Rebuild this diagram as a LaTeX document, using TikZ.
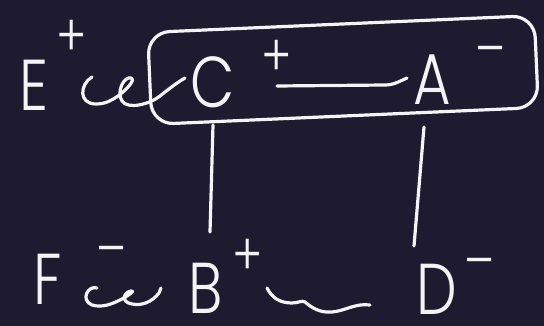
\documentclass[tikz,border=0pt]{standalone}
\usepackage{fontspec}
\newfontfamily\handfont{Poppins Light}[FakeStretch=0.8]
\usepackage{tikz}
\usetikzlibrary{positioning}
\definecolor{boardbg}{HTML}{1E1A2F}
\definecolor{chalk}{HTML}{F4F4F4}

\begin{document}
\begin{tikzpicture}[x=1pt,y=-1pt,
  letter/.style={text=chalk,inner sep=0pt,font=\handfont\fontsize{72}{74}\selectfont},
  sign/.style={text=chalk,inner sep=0pt,font=\handfont\fontsize{58}{60}\selectfont},
  stroke/.style={draw=chalk,line width=3.2pt,line cap=round,line join=round},
  pairbox/.style={stroke,rounded corners=22pt,minimum width=387pt,minimum height=92pt}
]
\fill[boardbg] (0,0) rectangle (544,326);
\useasboundingbox (0,0) rectangle (544,326);
% top row
\node[letter] (E) at (34,85) {E};
\node[sign] (Esign) at (72,38) {+};
\node[letter] (C) at (213,82) {C};
\node[sign] (Csign) at (277,58) {+};
\node[letter] (A) at (432,80) {A};
\node[sign] (Asign) at (491,58) {–};
\node[pairbox,rotate=2.5] (pair) at (343,70) {};
% bottom row
\node[letter] (F) at (48,279) {F};
\node[sign] (Fsign) at (112,258) {–};
\node[letter] (B) at (206,288) {B};
\node[sign] (Bsign) at (248,257) {+};
\node[letter] (D) at (437,289) {D};
\node[sign] (Dsign) at (480,270) {–};
% links
\draw[stroke] ([shift={(58,-8)}]E.center)
  .. controls (80,84) and (78,104) .. (96,104)
  .. controls (106,104) and (112,100) .. (118,96)
  .. controls (126,90) and (136,80) .. (131,78)
  .. controls (124,76) and (116,92) .. (122,101)
  .. controls (128,110) and (150,104) .. (160,96)
  .. controls (170,88) and (178,82) .. ([shift={(-28,-4)}]C.center);
\draw[stroke] ([shift={(64,4)}]C.center) -- (385,85)
  .. controls (394,85) and (400,81) .. ([shift={(-25,-2)}]A.center);
\draw[stroke] ([shift={(49,9)}]F.center)
  .. controls (88,285) and (80,300) .. (92,305)
  .. controls (102,308) and (112,304) .. (120,300)
  .. controls (128,296) and (136,290) .. (131,291)
  .. controls (124,292) and (120,302) .. (132,304)
  .. controls (142,306) and (152,302) .. (159,293)
  -- ([shift={(-45,0)}]B.center);
\draw[stroke] ([shift={(61,0)}]B.center)
  .. controls (272,298) and (280,303) .. (292,303)
  .. controls (298,303) and (302,300) .. (305,302)
  .. controls (312,308) and (320,313) .. (332,312)
  .. controls (345,311) and (355,303) .. ([shift={(-67,16)}]D.center);
\draw[stroke] ([shift={(0,43)}]C.center) -- ([shift={(4,-56)}]B.center);
\draw[stroke] ([shift={(-8,47)}]A.center) -- ([shift={(-23,-43)}]D.center);
\end{tikzpicture}
\end{document}
